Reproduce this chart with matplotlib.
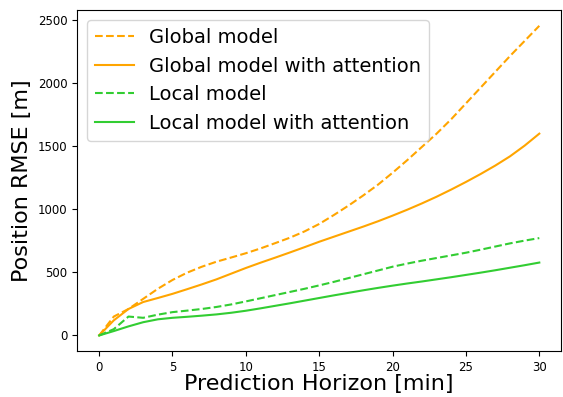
import matplotlib
matplotlib.use("Agg")
import matplotlib.pyplot as plt

# Prediction horizon in minutes
horizon = list(range(0, 31))

# Position RMSE [m] per horizon
global_rmse = [0, 150, 210, 290, 370, 440, 498, 545, 585, 618, 652, 690, 732, 775, 825,
               884, 955, 1030, 1110, 1195, 1290, 1390, 1495, 1600, 1715, 1840, 1965, 2090,
               2215, 2335, 2455]
global_att_rmse = [0, 120, 210, 265, 297, 330, 367, 405, 445, 490, 535, 577, 617, 658, 700,
                   743, 783, 823, 863, 905, 950, 997, 1047, 1100, 1157, 1217, 1280, 1347,
                   1420, 1505, 1600]
local_rmse = [0, 50, 150, 140, 165, 185, 197, 210, 226, 246, 270, 295, 320, 345, 370,
              397, 425, 455, 485, 515, 545, 570, 593, 614, 635, 656, 680, 705, 730, 752, 772]
local_att_rmse = [0, 35, 72, 105, 128, 140, 148, 157, 167, 180, 196, 215, 235, 255, 276,
                  297, 318, 338, 358, 377, 395, 412, 428, 445, 462, 480, 498, 517, 537, 557, 578]

fig, ax = plt.subplots(figsize=(5.63, 3.97), dpi=100)
fig.subplots_adjust(left=0.137, right=0.997, top=0.974, bottom=0.116)

ax.plot(horizon, global_rmse, "--", color="orange", label="Global model")
ax.plot(horizon, global_att_rmse, "-", color="orange", label="Global model with attention")
ax.plot(horizon, local_rmse, "--", color="limegreen", label="Local model")
ax.plot(horizon, local_att_rmse, "-", color="limegreen", label="Local model with attention")

ax.set_xlabel("Prediction Horizon [min]", fontsize=16, labelpad=0.5)
ax.set_ylabel("Position RMSE [m]", fontsize=16)
ax.tick_params(labelsize=8.5)
ax.legend(loc="upper left", fontsize=14)

fig.savefig("out.png", dpi=100)
